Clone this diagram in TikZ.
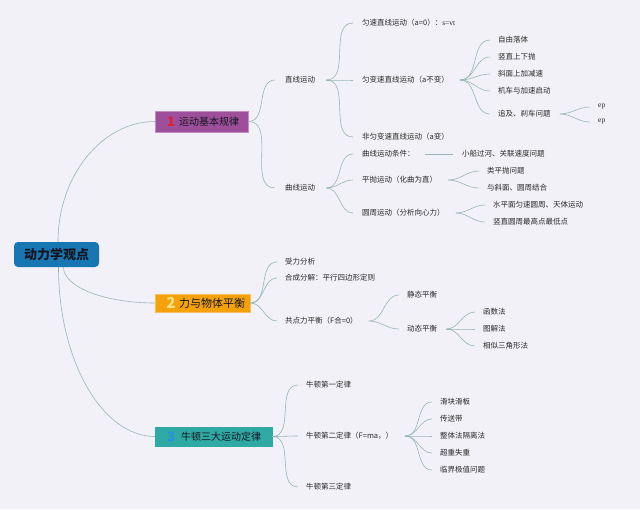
\documentclass[tikz,border=0pt]{standalone}
\usepackage{fontspec}
\setmainfont{Noto Sans CJK SC}
\newfontfamily\latinserif{Liberation Serif}
\definecolor{bgcol}{HTML}{F1F1F7}
\definecolor{conncol}{HTML}{98B6B8}
\definecolor{rootcol}{HTML}{1877B3}
\definecolor{purplecol}{HTML}{9D4F9B}
\definecolor{purpleline}{HTML}{C58BC3}
\definecolor{orangecol}{HTML}{F5A20A}
\definecolor{orangeline}{HTML}{F8C060}
\definecolor{tealcol}{HTML}{2EA9A4}
\definecolor{numred}{HTML}{E0202C}
\definecolor{numyellow}{HTML}{FFE38A}
\definecolor{numblue}{HTML}{2A8FE0}
\definecolor{txtcol}{HTML}{2A2A2A}
\definecolor{darktxt}{HTML}{151520}
\begin{document}
\begin{tikzpicture}[x=1pt,y=-1pt]
\tikzset{
  lbl/.style={anchor=west, inner sep=0pt, font=\fontsize{7.5}{9}\selectfont, text=txtcol},
  conn/.style={draw=conncol, line width=0.6pt},
  rootbox/.style={fill=rootcol, rounded corners=4pt, minimum width=85pt, minimum height=25pt, inner sep=0pt, font=\fontsize{13}{15}\selectfont\bfseries, text=darktxt},
  boxbase/.style={anchor=west, inner sep=0pt, line width=0.5pt},
  numlbl/.style={inner sep=0pt, font=\fontsize{13}{13}\selectfont\bfseries},
  boxtxt/.style={anchor=west, inner sep=0pt, text=darktxt}
}
\useasboundingbox (0,0) rectangle (640,509);
\fill[bgcol] (0,0) rectangle (640,509);

% root
\node[rootbox] (root) at (56.5,254.5) {动力学观点};

% main branch boxes
\node[boxbase, fill=purplecol, draw=purpleline, minimum width=93pt, minimum height=21pt] (n1) at (155,121.5) {};
\node[numlbl, text=numred] (n1n) at (171,121.5) {1};
\node[boxtxt, font=\fontsize{10}{12}\selectfont] (n1t) at (179,122) {运动基本规律};

\node[boxbase, fill=orangecol, draw=orangeline, minimum width=95pt, minimum height=18pt] (n2) at (155,303) {};
\node[numlbl, text=numyellow, font=\fontsize{15}{15}\selectfont\bfseries] (n2n) at (171,303) {2};
\node[boxtxt, font=\fontsize{11}{13}\selectfont] (n2t) at (179,303) {力与物体平衡};

\node[boxbase, fill=tealcol, draw=tealcol, minimum width=117pt, minimum height=19pt] (n3) at (155,436.5) {};
\node[numlbl, text=numblue] (n3n) at (171,436.5) {3};
\node[boxtxt, font=\fontsize{10}{12}\selectfont] (n3t) at (181,436.5) {牛顿三大运动定律};

% root connectors
\draw[conn] ([xshift=1.5pt]root.north) .. controls +(0,-66) and +(-53,0) .. (n1.west);
\draw[conn] ([xshift=7pt]root.south) .. controls +(0,20) and +(-50,0) .. (n2.west);
\draw[conn] ([xshift=2pt]root.south) .. controls +(0,93) and +(-53,0) .. (n3.west);

% ---- branch 1
\node[lbl] (zx) at (285,80) {直线运动};
\node[lbl] (qx) at (285,188) {曲线运动};
\node[lbl] (ys) at (362,23) {匀速直线运动（a=0）：{\latinserif s=vt}};
\node[lbl] (ybs) at (362,80) {匀变速直线运动（a不变）};
\node[lbl] (fyb) at (362,137) {非匀变速直线运动（a变）};
\node[lbl] (zyl) at (498,40) {自由落体};
\node[lbl] (szs) at (498,57) {竖直上下抛};
\node[lbl] (xm) at (498,74) {斜面上加减速};
\node[lbl] (jc) at (498,91) {机车与加速启动};
\node[lbl] (zj) at (498,114) {追及、刹车问题};
\node[lbl] (ep1) at (598,107) {\latinserif ep};
\node[lbl] (ep2) at (598,122) {\latinserif ep};
\node[lbl] (tj) at (362,154) {曲线运动条件：};
\node[lbl] (xc) at (462,154) {小船过河、关联速度问题};
\node[lbl] (pp) at (362,180) {平抛运动（化曲为直）};
\node[lbl] (lpp) at (487,171) {类平抛问题};
\node[lbl] (yxm) at (487,188) {与斜面、圆周结合};
\node[lbl] (yz) at (362,213) {圆周运动（分析向心力）};
\node[lbl] (spm) at (493,205) {水平面匀速圆周、天体运动};
\node[lbl] (szyz) at (493,222) {竖直圆周最高点最低点};

\draw[conn] (n1.east) to[out=0,in=180] ([xshift=-10pt]zx.west);
\draw[conn] (n1.east) to[out=0,in=180] ([xshift=-10pt]qx.west);
\foreach \c in {ys,ybs,fyb} \draw[conn] ([xshift=11pt]zx.east) to[out=0,in=180] ([xshift=-9pt]\c.west);
\foreach \c in {zyl,szs,xm,jc,zj} \draw[conn] ([xshift=11pt]ybs.east) to[out=0,in=180] ([xshift=-8pt]\c.west);
\foreach \c in {ep1,ep2} \draw[conn] ([xshift=9pt]zj.east) to[out=0,in=180] ([xshift=-8pt]\c.west);
\foreach \c in {tj,pp,yz} \draw[conn] ([xshift=11pt]qx.east) to[out=0,in=180] ([xshift=-9pt]\c.west);
\draw[conn] ([xshift=10pt]tj.east) -- ([xshift=-9pt]xc.west);
\foreach \c in {lpp,yxm} \draw[conn] ([xshift=11pt]pp.east) to[out=0,in=180] ([xshift=-8pt]\c.west);
\foreach \c in {spm,szyz} \draw[conn] ([xshift=11pt]yz.east) to[out=0,in=180] ([xshift=-8pt]\c.west);

% ---- branch 2
\node[lbl] (sl) at (285,262) {受力分析};
\node[lbl] (hc) at (285,278) {合成分解：平行四边形定则};
\node[lbl] (gd) at (285,321) {共点力平衡（F合=0）};
\node[lbl] (jt) at (407,295) {静态平衡};
\node[lbl] (dt) at (407,329) {动态平衡};
\node[lbl] (hs) at (483,312) {函数法};
\node[lbl] (tjf) at (483,329) {图解法};
\node[lbl] (xs) at (483,346) {相似三角形法};

\foreach \c in {sl,hc,gd} \draw[conn] (n2.east) to[out=0,in=180] ([xshift=-8pt]\c.west);
\foreach \c in {jt,dt} \draw[conn] ([xshift=11pt]gd.east) to[out=0,in=180] ([xshift=-8pt]\c.west);
\foreach \c in {hs,tjf,xs} \draw[conn] ([xshift=9pt]dt.east) to[out=0,in=180] ([xshift=-8pt]\c.west);

% ---- branch 3
\node[lbl] (nl1) at (306,385) {牛顿第一定律};
\node[lbl] (nl2) at (306,436) {牛顿第二定律（F=ma，）};
\node[lbl] (nl3) at (306,487) {牛顿第三定律};
\node[lbl] (hk) at (440,402) {滑块滑板};
\node[lbl] (csd) at (440,419) {传送带};
\node[lbl] (zt) at (440,436) {整体法隔离法};
\node[lbl] (cz) at (440,453) {超重失重};
\node[lbl] (lj) at (440,470) {临界极值问题};

\foreach \c in {nl1,nl2,nl3} \draw[conn] (n3.east) to[out=0,in=180] ([xshift=-8pt]\c.west);
\foreach \c in {hk,csd,zt,cz,lj} \draw[conn] ([xshift=12pt]nl2.east) to[out=0,in=180] ([xshift=-8pt]\c.west);
\end{tikzpicture}
\end{document}
